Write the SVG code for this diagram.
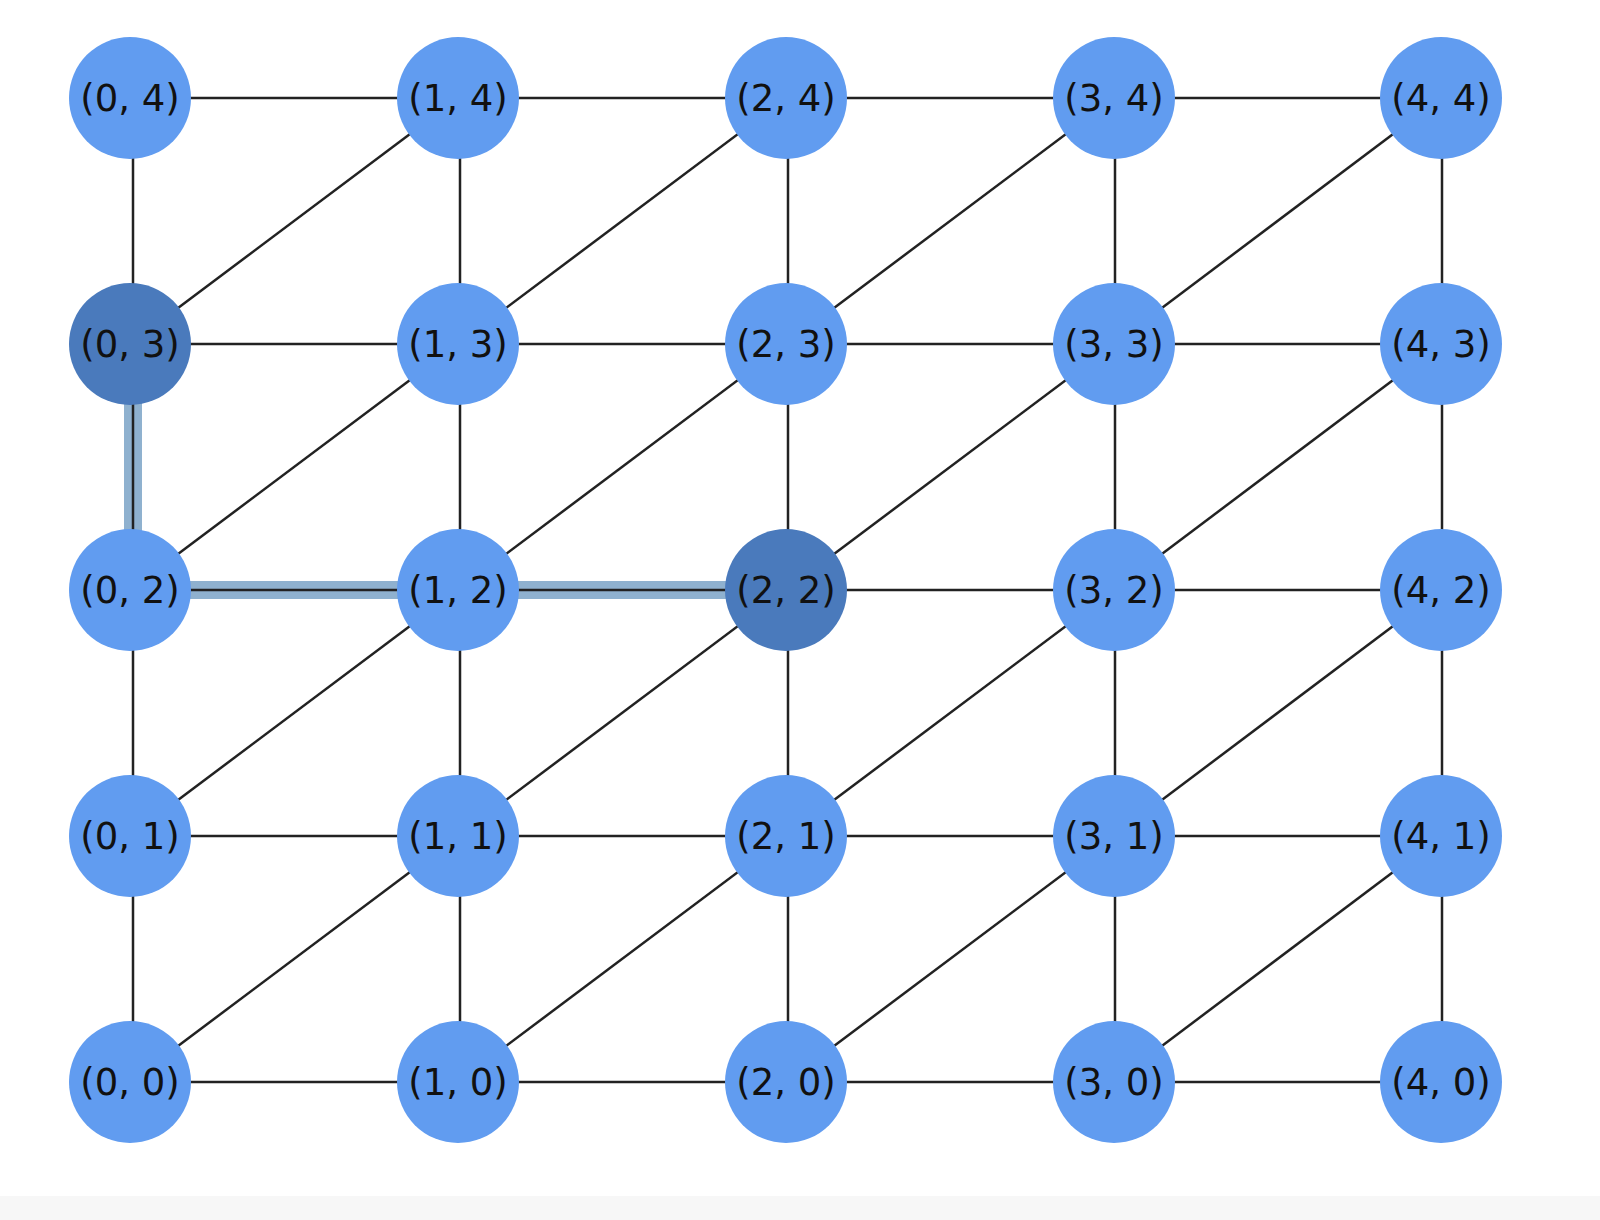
<svg xmlns="http://www.w3.org/2000/svg" width="1600" height="1220" viewBox="0 0 1600 1220">
<style>
.e{stroke:#222;stroke-width:2.5}
.h{stroke:#8fb1cf;stroke-width:18}
.n{fill:#619cf0}
.d{fill:#4a7abc}
text{font-family:"DejaVu Sans",sans-serif;font-size:37px;fill:#111;text-anchor:middle;dominant-baseline:central}
</style>
<rect width="1600" height="1220" fill="#fff"/>
<rect y="1196" width="1600" height="24" fill="#f7f7f7"/>
<g id="connectors">
<line class="h" x1="133" y1="344" x2="133" y2="590"/>
<line class="h" x1="130" y1="590" x2="786" y2="590"/>
<g class="e">
<line x1="130" y1="98" x2="1441" y2="98"/>
<line x1="130" y1="344" x2="1441" y2="344"/>
<line x1="130" y1="590" x2="1441" y2="590"/>
<line x1="130" y1="836" x2="1441" y2="836"/>
<line x1="130" y1="1082" x2="1441" y2="1082"/>
<line x1="133" y1="98" x2="133" y2="1082"/>
<line x1="460" y1="98" x2="460" y2="1082"/>
<line x1="788" y1="98" x2="788" y2="1082"/>
<line x1="1115" y1="98" x2="1115" y2="1082"/>
<line x1="1442" y1="98" x2="1442" y2="1082"/>
<line x1="130" y1="344" x2="458" y2="98"/>
<line x1="458" y1="344" x2="786" y2="98"/>
<line x1="786" y1="344" x2="1114" y2="98"/>
<line x1="1114" y1="344" x2="1441" y2="98"/>
<line x1="130" y1="590" x2="458" y2="344"/>
<line x1="458" y1="590" x2="786" y2="344"/>
<line x1="786" y1="590" x2="1114" y2="344"/>
<line x1="1114" y1="590" x2="1441" y2="344"/>
<line x1="130" y1="836" x2="458" y2="590"/>
<line x1="458" y1="836" x2="786" y2="590"/>
<line x1="786" y1="836" x2="1114" y2="590"/>
<line x1="1114" y1="836" x2="1441" y2="590"/>
<line x1="130" y1="1082" x2="458" y2="836"/>
<line x1="458" y1="1082" x2="786" y2="836"/>
<line x1="786" y1="1082" x2="1114" y2="836"/>
<line x1="1114" y1="1082" x2="1441" y2="836"/>
</g>
</g>
<g id="n04"><circle class="n" cx="130" cy="98" r="61"/><text x="130" y="98">(0, 4)</text></g>
<g id="n14"><circle class="n" cx="458" cy="98" r="61"/><text x="458" y="98">(1, 4)</text></g>
<g id="n24"><circle class="n" cx="786" cy="98" r="61"/><text x="786" y="98">(2, 4)</text></g>
<g id="n34"><circle class="n" cx="1114" cy="98" r="61"/><text x="1114" y="98">(3, 4)</text></g>
<g id="n44"><circle class="n" cx="1441" cy="98" r="61"/><text x="1441" y="98">(4, 4)</text></g>
<g id="n03"><circle class="d" cx="130" cy="344" r="61"/><text x="130" y="344">(0, 3)</text></g>
<g id="n13"><circle class="n" cx="458" cy="344" r="61"/><text x="458" y="344">(1, 3)</text></g>
<g id="n23"><circle class="n" cx="786" cy="344" r="61"/><text x="786" y="344">(2, 3)</text></g>
<g id="n33"><circle class="n" cx="1114" cy="344" r="61"/><text x="1114" y="344">(3, 3)</text></g>
<g id="n43"><circle class="n" cx="1441" cy="344" r="61"/><text x="1441" y="344">(4, 3)</text></g>
<g id="n02"><circle class="n" cx="130" cy="590" r="61"/><text x="130" y="590">(0, 2)</text></g>
<g id="n12"><circle class="n" cx="458" cy="590" r="61"/><text x="458" y="590">(1, 2)</text></g>
<g id="n22"><circle class="d" cx="786" cy="590" r="61"/><text x="786" y="590">(2, 2)</text></g>
<g id="n32"><circle class="n" cx="1114" cy="590" r="61"/><text x="1114" y="590">(3, 2)</text></g>
<g id="n42"><circle class="n" cx="1441" cy="590" r="61"/><text x="1441" y="590">(4, 2)</text></g>
<g id="n01"><circle class="n" cx="130" cy="836" r="61"/><text x="130" y="836">(0, 1)</text></g>
<g id="n11"><circle class="n" cx="458" cy="836" r="61"/><text x="458" y="836">(1, 1)</text></g>
<g id="n21"><circle class="n" cx="786" cy="836" r="61"/><text x="786" y="836">(2, 1)</text></g>
<g id="n31"><circle class="n" cx="1114" cy="836" r="61"/><text x="1114" y="836">(3, 1)</text></g>
<g id="n41"><circle class="n" cx="1441" cy="836" r="61"/><text x="1441" y="836">(4, 1)</text></g>
<g id="n00"><circle class="n" cx="130" cy="1082" r="61"/><text x="130" y="1082">(0, 0)</text></g>
<g id="n10"><circle class="n" cx="458" cy="1082" r="61"/><text x="458" y="1082">(1, 0)</text></g>
<g id="n20"><circle class="n" cx="786" cy="1082" r="61"/><text x="786" y="1082">(2, 0)</text></g>
<g id="n30"><circle class="n" cx="1114" cy="1082" r="61"/><text x="1114" y="1082">(3, 0)</text></g>
<g id="n40"><circle class="n" cx="1441" cy="1082" r="61"/><text x="1441" y="1082">(4, 0)</text></g>
</svg>
